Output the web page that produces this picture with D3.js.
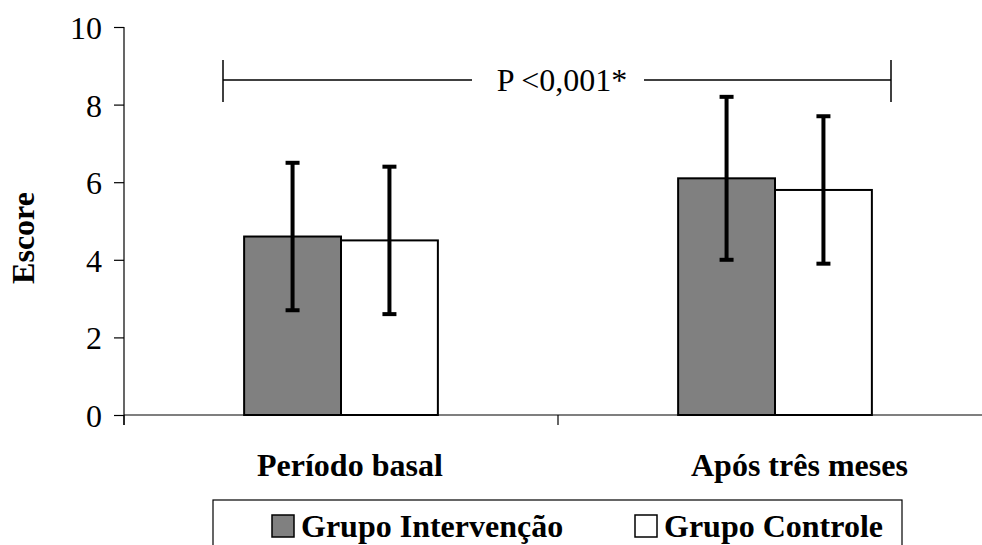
<!DOCTYPE html>
<html>
<head>
<meta charset="utf-8">
<script src="https://cdn.jsdelivr.net/npm/d3@7"></script>
<style>
  body { margin: 0; background: #fff; }
  svg text { font-family: "Liberation Serif", "Times New Roman", serif; fill: #000; }
</style>
</head>
<body>
<div id="chart"></div>
<script>
// data
var categories = ["Período basal", "Após três meses"];
var groups = ["Grupo Intervenção", "Grupo Controle"];
var groupColors = ["#808080", "#ffffff"];
var intervMean = [4.6, 6.1];
var intervSd = [1.9, 2.1];
var controlMean = [4.5, 5.8];
var controlSd = [1.9, 1.9];
var yTicks = [0, 2, 4, 6, 8, 10];
var pLabel = "P <0,001*";

var width = 982, height = 545;

var svg = d3.select("#chart").append("svg")
    .attr("width", width).attr("height", height);

var y = d3.scaleLinear().domain([0, 10]).range([415, 27]);
var x = d3.scaleBand().domain(categories).range([124, 992]).padding(0);
var xInner = d3.scaleBand().domain(groups).range([0, x.bandwidth()])
    .paddingInner(0).paddingOuter(1.24);

// rows for bars
var rows = [];
categories.forEach(function(c, i){
  rows.push({cat: c, grp: groups[0], mean: intervMean[i], sd: intervSd[i], color: groupColors[0]});
  rows.push({cat: c, grp: groups[1], mean: controlMean[i], sd: controlSd[i], color: groupColors[1]});
});

// y axis
var yAxis = svg.append("g")
    .attr("transform", "translate(124,0)")
    .call(d3.axisLeft(y).tickValues(yTicks).tickSize(10).tickSizeOuter(0).tickFormat(d3.format("d")));
yAxis.select(".domain").remove();
yAxis.selectAll(".tick line").attr("stroke", "#000").attr("stroke-width", 1.2);
yAxis.selectAll(".tick text")
    .attr("x", -22)
    .attr("dy", "0.36em")
    .style("text-anchor", "end")
    .style("font-size", "32px")
    .style("font-family", "Liberation Serif, serif");
svg.append("line")
    .attr("x1", 124).attr("x2", 124)
    .attr("y1", y(10)).attr("y2", y(0) + 10)
    .attr("stroke", "#000").attr("stroke-width", 1.2);

// bars
svg.selectAll("rect.bar")
  .data(rows)
  .enter()
  .append("rect")
    .attr("class", "bar")
    .attr("x", function(d){ return x(d.cat) + xInner(d.grp) })
    .attr("y", function(d){ return y(d.mean) })
    .attr("width", xInner.bandwidth())
    .attr("height", function(d){ return y(0) - y(d.mean) })
    .attr("fill", function(d){ return d.color })
    .attr("stroke", "#000")
    .attr("stroke-width", 2);

// x axis
svg.append("line")
    .attr("x1", 124).attr("x2", width)
    .attr("y1", y(0)).attr("y2", y(0))
    .attr("stroke", "#000").attr("stroke-width", 1.2);
svg.selectAll("line.xtick")
  .data(categories.concat(["end"]))
  .enter()
  .append("line")
    .attr("class", "xtick")
    .attr("x1", function(d, i){ return i < categories.length ? x(d) : x.range()[1] })
    .attr("x2", function(d, i){ return i < categories.length ? x(d) : x.range()[1] })
    .attr("y1", y(0)).attr("y2", y(0) + 10)
    .attr("stroke", "#000").attr("stroke-width", 1.2);

svg.selectAll("text.cat")
  .data(categories)
  .enter()
  .append("text")
    .attr("class", "cat")
    .attr("x", function(d){ return x(d) + 133 })
    .attr("y", 476)
    .style("font-size", "32px")
    .style("font-weight", "bold")
    .text(function(d){ return d });

// error bars
var err = svg.selectAll("g.err")
  .data(rows)
  .enter()
  .append("g")
    .attr("class", "err")
    .attr("transform", function(d){ return "translate(" + (x(d.cat) + xInner(d.grp) + xInner.bandwidth() / 2) + ",0)" });
err.append("line")
    .attr("y1", function(d){ return y(d.mean + d.sd) })
    .attr("y2", function(d){ return y(d.mean - d.sd) })
    .attr("stroke", "#000").attr("stroke-width", 4);
err.append("line")
    .attr("x1", -7).attr("x2", 7)
    .attr("y1", function(d){ return y(d.mean + d.sd) })
    .attr("y2", function(d){ return y(d.mean + d.sd) })
    .attr("stroke", "#000").attr("stroke-width", 4);
err.append("line")
    .attr("x1", -7).attr("x2", 7)
    .attr("y1", function(d){ return y(d.mean - d.sd) })
    .attr("y2", function(d){ return y(d.mean - d.sd) })
    .attr("stroke", "#000").attr("stroke-width", 4);

// significance bracket
var bx1 = 223, bx2 = 891, by = 80;
var br = svg.append("g").attr("stroke", "#000").attr("stroke-width", 1.5);
br.append("line").attr("x1", bx1).attr("x2", bx1).attr("y1", by - 20).attr("y2", by + 22);
br.append("line").attr("x1", bx2).attr("x2", bx2).attr("y1", by - 20).attr("y2", by + 22);
br.append("line").attr("x1", bx1).attr("x2", 472).attr("y1", by).attr("y2", by);
br.append("line").attr("x1", 644).attr("x2", bx2).attr("y1", by).attr("y2", by);
svg.append("text")
    .attr("x", 562).attr("y", by + 11)
    .style("text-anchor", "middle")
    .style("font-size", "32px")
    .text(pLabel);

// y title
svg.append("text")
    .attr("transform", "translate(34,238) rotate(-90)")
    .style("text-anchor", "middle")
    .style("font-size", "32px")
    .style("font-weight", "bold")
    .text("Escore");

// legend
var legend = svg.append("g");
legend.append("rect")
    .attr("x", 213).attr("y", 500)
    .attr("width", 689).attr("height", 80)
    .attr("fill", "none").attr("stroke", "#000").attr("stroke-width", 1.2);
var legX = [272, 635];
var li = legend.selectAll("g.item")
  .data(groups)
  .enter()
  .append("g")
    .attr("class", "item")
    .attr("transform", function(d, i){ return "translate(" + legX[i] + ",515)" });
li.append("rect")
    .attr("width", 22).attr("height", 22)
    .attr("fill", function(d, i){ return groupColors[i] })
    .attr("stroke", "#000").attr("stroke-width", 1.5);
li.append("text")
    .attr("x", 29).attr("y", 22)
    .style("font-size", "32px")
    .style("font-weight", "bold")
    .text(function(d){ return d });
</script>
</body>
</html>
